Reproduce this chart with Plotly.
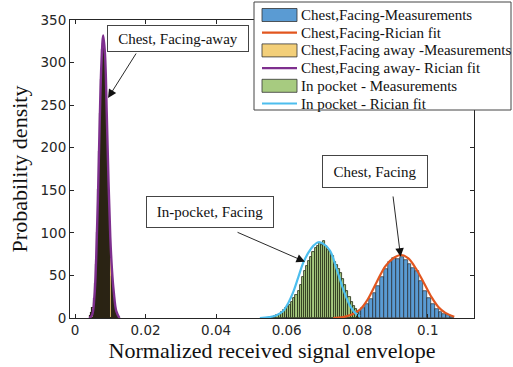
import plotly.graph_objects as go

# ---------------- data ----------------
# Chest, Facing - measurements (histogram)
facing_bin_width = 0.0011
facing_centers = [0.0783, 0.0794, 0.0805, 0.0816, 0.0827, 0.0838, 0.0849, 0.0860, 0.0871,
                  0.0882, 0.0893, 0.0904, 0.0915, 0.0926, 0.0937, 0.0948, 0.0959, 0.0970,
                  0.0981, 0.0992, 0.1003, 0.1014, 0.1025, 0.1036, 0.1047, 0.1058, 0.1069]
facing_heights = [1, 3, 8, 12, 17, 22, 29, 38, 48, 57, 66, 71, 69, 72, 68, 63, 59, 55,
                  44, 32, 24, 17, 11, 7, 5, 3, 1]
# Chest, Facing - Rician fit
facing_fit_x = [0.0732, 0.0760, 0.0785, 0.0808, 0.0830, 0.0855, 0.0880, 0.0905, 0.0925,
                0.0945, 0.0965, 0.0988, 0.1010, 0.1030, 0.1050, 0.1075]
facing_fit_y = [0, 1, 4, 10, 22, 42, 61, 71, 74, 70, 59, 42, 25, 13, 6, 1.5]

# Chest, Facing away - measurements (histogram)
away_bin_width = 0.0003
away_centers = [0.0045, 0.0048, 0.0051, 0.0054, 0.0057, 0.0060, 0.0063, 0.0066, 0.0069,
                0.0072, 0.0075, 0.0078, 0.0081, 0.0084, 0.0087, 0.0090, 0.0093, 0.0096,
                0.0099, 0.0102, 0.0105, 0.0108, 0.0111, 0.0114, 0.0117, 0.0120]
away_heights = [2, 6, 12, 22, 40, 62, 100, 150, 195, 240, 280, 315, 322, 305, 270, 230,
                180, 140, 100, 70, 48, 30, 18, 10, 5, 2]
# Chest, Facing away - Rician fit
away_fit_x = [0.0040, 0.0048, 0.0055, 0.0060, 0.0065, 0.0070, 0.0075, 0.0080, 0.0085,
              0.0090, 0.0095, 0.0100, 0.0105, 0.0110, 0.0117, 0.0126]
away_fit_y = [0, 3, 25, 70, 140, 230, 300, 332, 310, 240, 160, 95, 55, 30, 8, 0]

# In pocket - measurements (histogram)
pocket_bin_width = 0.0006
pocket_centers = [0.0556, 0.0562, 0.0568, 0.0574, 0.0580, 0.0586, 0.0592, 0.0598, 0.0604,
                  0.0610, 0.0616, 0.0622, 0.0628, 0.0634, 0.0640, 0.0646, 0.0652, 0.0658,
                  0.0664, 0.0670, 0.0676, 0.0682, 0.0688, 0.0694, 0.0700, 0.0706, 0.0712,
                  0.0718, 0.0724, 0.0730, 0.0736, 0.0742, 0.0748, 0.0754, 0.0760, 0.0766,
                  0.0772, 0.0778, 0.0784, 0.0790, 0.0796, 0.0802]
pocket_heights = [1, 1, 2, 3, 5, 7, 9, 12, 13, 15, 19, 23, 27, 32, 39, 48, 55, 61, 67, 72,
                  78, 82, 85, 88, 86, 91, 84, 80, 77, 73, 66, 62, 58, 53, 46, 39, 32, 25,
                  19, 14, 10, 6]
# In pocket - Rician fit
pocket_fit_x = [0.0524, 0.0550, 0.0570, 0.0591, 0.0605, 0.0619, 0.0633, 0.0647, 0.0662,
                0.0676, 0.0690, 0.0704, 0.0723, 0.0742, 0.0761, 0.0780, 0.0799, 0.0808]
pocket_fit_y = [0, 1, 3, 8.6, 18, 31, 48, 65, 77, 85, 89, 87, 79, 57, 33, 14, 4, 2]

# axes
x_ticks = [0, 0.02, 0.04, 0.06, 0.08, 0.1]
x_tick_labels = ["0", "0.02", "0.04", "0.06", "0.08", "0.1"]
y_ticks = [0, 50, 100, 150, 200, 250, 300, 350]

# annotation labels and where their arrows point (data coordinates)
box_labels = ["Chest, Facing-away", "In-pocket, Facing", "Chest, Facing"]
box_x = [0.0292, 0.0383, 0.0849]
box_y = [328.3, 125.0, 171.8]
arrow_tail_x = [0.01758, 0.04565, 0.0901]
arrow_tail_y = [312.4, 101.4, 144.5]
arrow_tip_x = [0.00936, 0.0652, 0.0923]
arrow_tip_y = [258.4, 66.1, 72.0]

# ---------------- styling ----------------
SERIF = "Liberation Serif"
SANS = "DejaVu Sans"
EDGE = "#1a1a1a"
W, H = 513, 367
ML, MR, MT, MB = 70, 39, 20, 49
PW, PH = W - ML - MR, H - MT - MB

series_names = ["Chest,Facing-Measurements", "Chest,Facing-Rician fit",
                "Chest,Facing away -Measurements", "Chest,Facing away- Rician fit",
                "In pocket - Measurements", "In pocket - Rician fit"]
series_kind = ["bar", "line", "bar", "line", "bar", "line"]
series_colors = ["#5A9BD3", "#E2561F", "#F3CF79", "#7E2F8E", "#A7CB80", "#4DBEEE"]
box_sizes = [(134, 19), (120, 24), (98, 25)]

fig = go.Figure()
fig.add_trace(go.Bar(x=facing_centers, y=facing_heights, width=facing_bin_width,
                     name=series_names[0],
                     marker=dict(color=series_colors[0], line=dict(color=EDGE, width=0.6))))
fig.add_trace(go.Scatter(x=facing_fit_x, y=facing_fit_y, mode="lines", name=series_names[1],
                         line=dict(color=series_colors[1], width=2.2, shape="spline")))
fig.add_trace(go.Bar(x=away_centers, y=away_heights, width=away_bin_width,
                     name=series_names[2],
                     marker=dict(color=series_colors[2], line=dict(color="#2b2414", width=1.1))))
fig.add_trace(go.Scatter(x=away_fit_x, y=away_fit_y, mode="lines", name=series_names[3],
                         line=dict(color=series_colors[3], width=2.4, shape="spline")))
fig.add_trace(go.Bar(x=pocket_centers, y=pocket_heights, width=pocket_bin_width,
                     name=series_names[4],
                     marker=dict(color=series_colors[4], line=dict(color="#1f2a10", width=0.8))))
fig.add_trace(go.Scatter(x=pocket_fit_x, y=pocket_fit_y, mode="lines", name=series_names[5],
                         line=dict(color=series_colors[5], width=2.2, shape="spline")))

annotations = []
shapes = []
for lab, bx, by, (bw, bh) in zip(box_labels, box_x, box_y, box_sizes):
    annotations.append(dict(x=bx, y=by, xref="x", yref="y", text=lab, showarrow=False,
                            font=dict(family=SERIF, size=15, color="#111"),
                            width=bw, height=bh, align="center", valign="middle",
                            bgcolor="white", bordercolor="#444", borderwidth=1,
                            borderpad=3))
for tx, ty, hx, hy in zip(arrow_tail_x, arrow_tail_y, arrow_tip_x, arrow_tip_y):
    annotations.append(dict(x=hx, y=hy, xref="x", yref="y", ax=tx, ay=ty,
                            axref="x", ayref="y", text="", showarrow=True,
                            arrowhead=2, arrowsize=1.9, arrowwidth=0.9,
                            arrowcolor="#111"))

# legend box drawn in paper coordinates (pixel layout converted to paper units)
def px_x(p):
    return (p - ML) / PW

def px_y(p):
    return (H - MB - p) / PH

shapes.append(dict(type="rect", xref="paper", yref="paper", layer="above",
                   x0=px_x(254), x1=px_x(511), y0=px_y(110), y1=px_y(2),
                   fillcolor="white", line=dict(color="#444", width=1)))
for i, (nm, kind, col) in enumerate(zip(series_names, series_kind, series_colors)):
    cy = 15 + 17.7 * i
    if kind == "bar":
        shapes.append(dict(type="rect", xref="paper", yref="paper", layer="above",
                           x0=px_x(262), x1=px_x(297), y0=px_y(cy + 6.5), y1=px_y(cy - 6.5),
                           fillcolor=col, line=dict(color="#333", width=0.8)))
    else:
        shapes.append(dict(type="line", xref="paper", yref="paper", layer="above",
                           x0=px_x(262), x1=px_x(297), y0=px_y(cy), y1=px_y(cy),
                           line=dict(color=col, width=2.2)))
    annotations.append(dict(x=px_x(299), y=px_y(cy), xref="paper", yref="paper",
                            xanchor="left", yanchor="middle", text=nm, showarrow=False,
                            font=dict(family=SERIF, size=15, color="#111")))

fig.update_layout(
    width=W, height=H,
    margin=dict(l=ML, r=MR, t=MT, b=MB, autoexpand=False),
    paper_bgcolor="white", plot_bgcolor="white",
    barmode="overlay", bargap=0,
    showlegend=False,
    annotations=annotations, shapes=shapes,
)
fig.update_xaxes(range=[-0.00142, 0.1131], tickvals=x_ticks, ticktext=x_tick_labels,
                 ticks="inside", ticklen=4, tickcolor="#262626", mirror="ticks",
                 showline=True, linecolor="#262626", linewidth=1, showgrid=False,
                 zeroline=False, tickfont=dict(family=SANS, size=13.5, color="#262626"),
                 title=dict(text="Normalized received signal envelope",
                            font=dict(family=SERIF, size=22, color="#111"), standoff=2))
fig.update_yaxes(range=[0, 350], tickvals=y_ticks,
                 ticks="inside", ticklen=4, tickcolor="#262626", mirror="ticks",
                 showline=True, linecolor="#262626", linewidth=1, showgrid=False,
                 zeroline=False, tickfont=dict(family=SANS, size=13.5, color="#262626"),
                 title=dict(text="Probability density",
                            font=dict(family=SERIF, size=22, color="#111"), standoff=6))

fig.write_html("out.html", config={"displayModeBar": False},
               post_script="document.body.style.margin='0';")
